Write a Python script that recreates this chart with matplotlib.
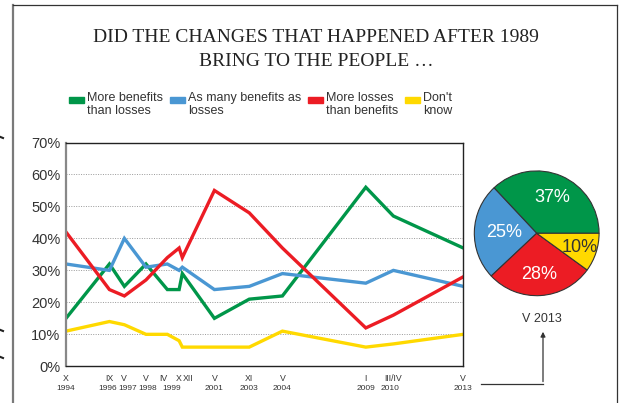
import numpy as np
import matplotlib.pyplot as plt
from matplotlib.patches import Rectangle

plt.rcParams['font.family'] = ['Liberation Sans', 'DejaVu Sans']

W, H = 622, 403

# survey dates as placed on the time axis (decimal years)
survey_x = [1994.75, 1996.78, 1997.48, 1998.49, 1999.49, 2000.04, 2000.19,
            2001.69, 2003.32, 2004.87, 2008.77, 2010.06, 2013.33]
survey_months = ['X', 'IX', 'V', 'V', 'IV', 'X', 'XII', 'V', 'XI', 'V', 'I', 'III/IV', 'V']
year_labels = ['1994', '1996', '1997', '1998', '1999', '2001', '2003', '2004', '2009', '2010', '2013']
year_label_x = [1994.75, 1996.70, 1997.62, 1998.55, 1999.71, 2001.69, 2003.32,
                2004.87, 2008.77, 2009.90, 2013.33]

# answers in percent
more_benefits = [15, 32, 25, 32, 24, 24, 29, 15, 21, 22, 56, 47, 37]
as_many = [32, 30, 40, 31, 32, 30, 31, 24, 25, 29, 26, 30, 25]
more_losses = [42, 24, 22, 27, 34, 37, 34, 55, 48, 37, 12, 16, 28]
dont_know = [11, 14, 13, 10, 10, 8, 6, 6, 6, 11, 6, 7, 10]

series_names = ['More benefits\nthan losses', 'As many benefits as\nlosses',
                'More losses\nthan benefits', "Don't\nknow"]
series_colors = ['#009649', '#4a97d3', '#ec1c24', '#ffd900']
pie_title = 'V 2013'

fig = plt.figure(figsize=(W / 100, H / 100), dpi=100)

# page frame, arrow, legend and title drawn in pixel space
deco = fig.add_axes([0, 0, 1, 1])
deco.set_xlim(0, W)
deco.set_ylim(H, 0)
deco.axis('off')
deco.plot([13, 13], [5, H], color='#7a7a7a', lw=1.6)
deco.plot([13, 617], [5, 5], color='#333333', lw=0.9)
deco.plot([617, 617], [5, H], color='#333333', lw=0.9)
for yy in [137, 330, 357]:
    deco.plot([0.5, 3], [yy, yy + 1], color='#222222', lw=1.5)

deco.text(316, 38, 'DID THE CHANGES THAT HAPPENED AFTER 1989', family='Liberation Serif',
          fontsize=14, ha='center', va='center', color='#222222')
deco.text(316, 61, 'BRING TO THE PEOPLE \u2026', family='Liberation Serif',
          fontsize=14, ha='center', va='center', color='#222222')

legend_x = [69, 170, 308, 405]
for lx, name, col in zip(legend_x, series_names, series_colors):
    deco.add_patch(Rectangle((lx, 96.5), 15, 6.5, color=col))
    deco.text(lx + 18, 92, name, fontsize=9, ha='left', va='top', color='#333333',
              linespacing=1.15)

# time series
ax = fig.add_axes([66 / W, 1 - 366.3 / H, 397.3 / W, 223.8 / H])
series = [more_benefits, as_many, more_losses, dont_know]
for vals, col in zip(series, series_colors):
    ax.plot(survey_x, vals, color=col, lw=2.4, solid_joinstyle='miter')
ax.set_xlim(survey_x[0], survey_x[-1])
ax.set_ylim(0, 70)
ax.set_yticks(range(0, 71, 10))
ax.set_yticklabels([f'{v}%' for v in range(0, 71, 10)], fontsize=10.5, color='#333333')
ax.tick_params(axis='y', length=0, pad=4)
ax.set_xticks([])
for v in range(10, 70, 10):
    ax.axhline(v, color='#999999', lw=0.7, ls=(0, (1, 1.5)), zorder=0)
for side in ['top', 'right', 'bottom']:
    ax.spines[side].set_color('#222222')
    ax.spines[side].set_linewidth(1)
ax.spines['left'].set_color('#888888')
ax.spines['left'].set_linewidth(1.6)

xt = ax.get_xaxis_transform()
month_ha = ['center'] * len(survey_months)
month_ha[4] = 'right'
month_ha[6] = 'left'
for x, m, ha in zip(survey_x, survey_months, month_ha):
    ax.text(x, -0.035, m, transform=xt, fontsize=6.3, ha=ha, va='top', color='#333333')
for x, yl in zip(year_label_x, year_labels):
    ax.text(x, -0.083, yl, transform=xt, fontsize=6, ha='center', va='top', color='#333333')

# pie for the latest survey
pie_vals = [more_benefits[-1], as_many[-1], more_losses[-1], dont_know[-1]]
r = 63
cx, cy = 536.7, 233.3
pax = fig.add_axes([(cx - r) / W, 1 - (cy + r) / H, 2 * r / W, 2 * r / H])
wedges, _ = pax.pie(pie_vals, colors=series_colors, startangle=0, counterclock=True,
                    wedgeprops=dict(edgecolor='#333333', linewidth=0.8))
pax.set_xlim(-1.01, 1.01)
pax.set_ylim(-1.01, 1.01)
pax.set_aspect('equal')
pct_dist = [0.63, 0.52, 0.66, 0.72]
txt_colors = ['white', 'white', 'white', '#333333']
for w, v, d, tc in zip(wedges, pie_vals, pct_dist, txt_colors):
    ang = np.deg2rad((w.theta1 + w.theta2) / 2)
    pax.text(d * np.cos(ang), d * np.sin(ang), f'{v}%', ha='center', va='center',
             fontsize=13, color=tc)

deco.text(541.7, 319, pie_title, fontsize=9, ha='center', va='center', color='#333333')
deco.plot([481, 543], [384, 384], color='#333333', lw=0.9)
deco.annotate('', xy=(543, 329), xytext=(543, 384.4),
              arrowprops=dict(arrowstyle='-|>', color='#333333', lw=0.9, mutation_scale=7))

fig.savefig('out.png', dpi=100)
